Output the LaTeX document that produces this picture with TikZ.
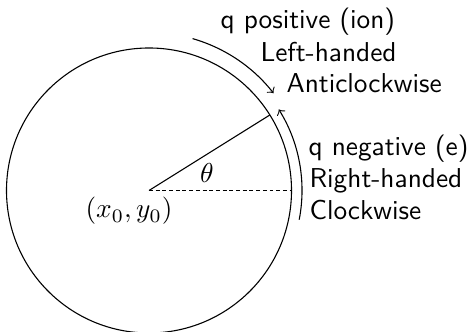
\documentclass[tikz,border=0pt]{standalone}
\begin{document}
\begin{tikzpicture}[x=0.366pt,y=0.366pt,
  lbl/.style={font=\sffamily,inner sep=0pt,anchor=base west},
  mlbl/.style={inner sep=0pt},
  every path/.style={line width=0.4pt}]
\useasboundingbox (0,0) rectangle (474,331);
\coordinate (c) at (149,140.5);
\draw (c) circle (142.5);
\draw (c) -- ([shift={(32:142.5)}]c) coordinate (rt);
\draw[dash pattern=on 1.45pt off 1.0pt] (c) -- ([shift={(0:142.5)}]c) coordinate (rr);
\draw[->] ([shift={(74:158)}]c) arc[start angle=74,end angle=38,radius=158];
\draw[->] ([shift={(-11:153)}]c) arc[start angle=-11,end angle=32,radius=153];
\node[mlbl,anchor=base] (th) at (207,148) {$\theta$};
\node[mlbl,anchor=base west] (xy) at (85,113) {$(x_0,y_0)$};
\node[lbl] (p1) at (220,302) {q positive (ion)};
\node[lbl] (p2) at (260,269) {Left-handed};
\node[lbl] (p3) at (286,238) {Anticlockwise};
\node[lbl] (n1) at (308,175) {q negative (e)};
\node[lbl] (n2) at (309,143) {Right-handed};
\node[lbl] (n3) at (309,111) {Clockwise};
\end{tikzpicture}
\end{document}
